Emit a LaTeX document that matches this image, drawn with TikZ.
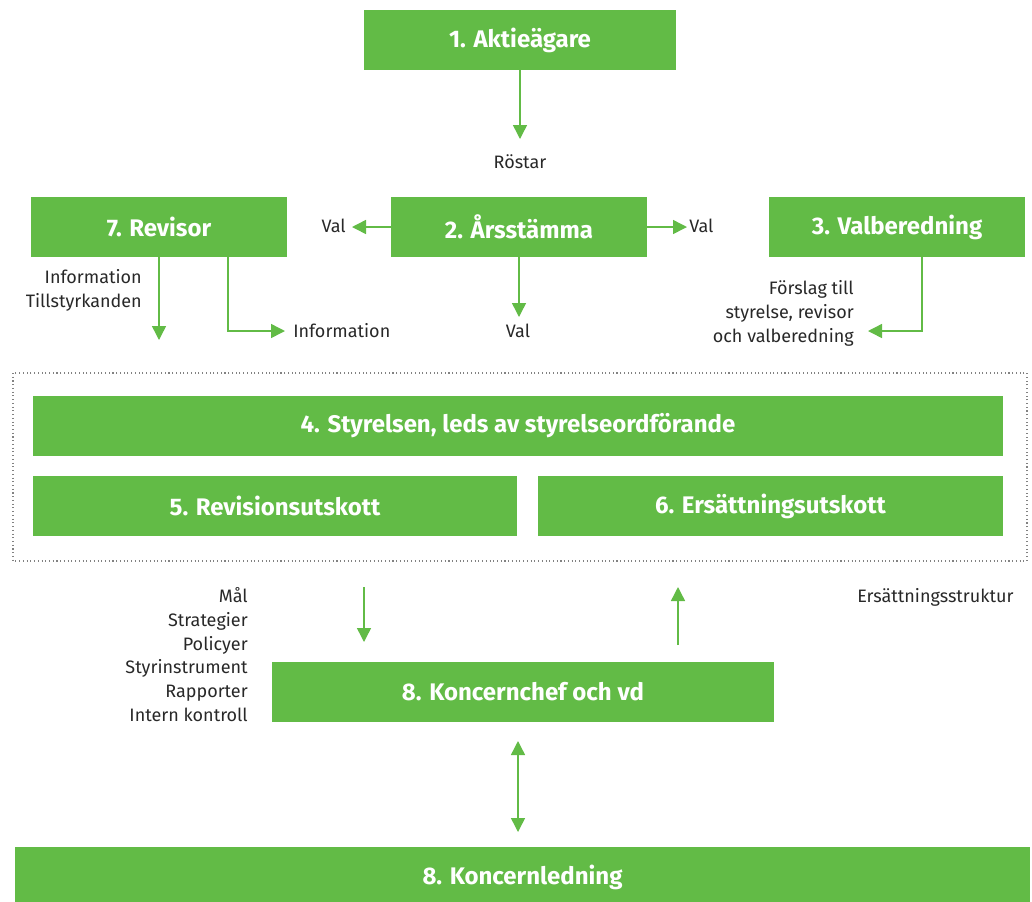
\documentclass[tikz,border=0pt]{standalone}
\usepackage{fontspec}
\setmainfont{Fira Sans}
\usetikzlibrary{arrows.meta}
\definecolor{grn}{RGB}{98,187,70}
\definecolor{txt}{RGB}{40,40,40}
\definecolor{frame}{RGB}{130,130,130}
\begin{document}
\begin{tikzpicture}[x=0.75pt,y=-0.75pt,
  gbox/.style={fill=grn, text=white, font=\bfseries\fontsize{18}{21}\selectfont, inner sep=0pt, minimum height=45pt},
  lbl/.style={text=txt, font=\fontsize{13.5}{16}\selectfont, inner sep=0pt},
  conn/.style={draw=grn, line width=1.1pt, -{Triangle[width=10.5pt,length=10.5pt]}},
  dconn/.style={draw=grn, line width=1.1pt, {Triangle[width=10.5pt,length=10.5pt]}-{Triangle[width=10.5pt,length=10.5pt]}},
]
\useasboundingbox (0,0) rectangle (1032,901);

% dotted frame
\draw[frame, dotted, line width=0.8pt] (13,373) rectangle (1027,561);

% boxes
\node[gbox, minimum width=234pt] (b1) at (520,40) {1. Aktieägare};
\node[gbox, minimum width=192pt] (b2) at (519,227) {2. Årsstämma};
\node[gbox, minimum width=192pt] (b7) at (159,227) {7. Revisor};
\node[gbox, minimum width=192pt] (b3) at (897,227) {3. Valberedning};
\node[gbox, minimum width=727.5pt] (b4) at (518,426) {4. Styrelsen, leds av styrelseordförande};
\node[gbox, minimum width=363pt] (b5) at (275,506) {5. Revisionsutskott};
\node[gbox, minimum width=348.75pt] (b6) at (770.5,506) {6. Ersättningsutskott};
\node[gbox, minimum width=376.5pt] (b8) at (523,692) {8. Koncernchef och vd};
\node[gbox, minimum width=761.25pt] (b9) at (522.5,877) {8. Koncernledning};

% free-end coordinates
\coordinate (rost) at (520,139);
\coordinate (valL) at (352,227);
\coordinate (valR) at (687,227);
\coordinate (valD) at (519,317);
\coordinate (rev1) at (159,340);
\coordinate (rev2) at (285,331);
\coordinate (fors) at (868,331);
\coordinate (m1a) at (364,587);
\coordinate (m1b) at (364,642);
\coordinate (m2a) at (678,645);
\coordinate (m2b) at (678,587);
\coordinate (d1) at (518,741);
\coordinate (d2) at (518,832);

% connectors
\draw[conn] (b1.south) -- (rost);
\draw[conn] (b2.west) -- (valL);
\draw[conn] (b2.east) -- (valR);
\draw[conn] (b2.south) -- (valD);
\draw[conn] (b7.south) -- (rev1);
\draw[conn] ([xshift=51.75pt]b7.south) |- (rev2);
\draw[conn] ([xshift=18.75pt]b3.south) |- (fors);
\draw[conn] (m1a) -- (m1b);
\draw[conn] (m2a) -- (m2b);
\draw[dconn] (d1) -- (d2);

% labels
\node[lbl, anchor=base] (lrost) at (520,168) {Röstar};
\node[lbl, anchor=base east] (lvalL) at (346,232) {Val};
\node[lbl, anchor=base west] (lvalR) at (689,232) {Val};
\node[lbl, anchor=base] (lvalD) at (518,337) {Val};
\node[lbl, anchor=base east] (li1) at (142,283) {Information};
\node[lbl, anchor=base east] (li2) at (142,307) {Tillstyrkanden};
\node[lbl, anchor=base west] (li3) at (293,337) {Information};
\node[lbl, anchor=base east] (lf1) at (854,294) {Förslag till};
\node[lbl, anchor=base east] (lf2) at (854,318) {styrelse, revisor};
\node[lbl, anchor=base east] (lf3) at (854,342) {och valberedning};
\node[lbl, anchor=base east] (lm1) at (248,602) {Mål};
\node[lbl, anchor=base east] (lm2) at (248,626) {Strategier};
\node[lbl, anchor=base east] (lm3) at (248,650) {Policyer};
\node[lbl, anchor=base east] (lm4) at (248,673) {Styrinstrument};
\node[lbl, anchor=base east] (lm5) at (248,697) {Rapporter};
\node[lbl, anchor=base east] (lm6) at (248,721) {Intern kontroll};
\node[lbl, anchor=base west] (lers) at (857,602) {Ersättningsstruktur};
\end{tikzpicture}
\end{document}
